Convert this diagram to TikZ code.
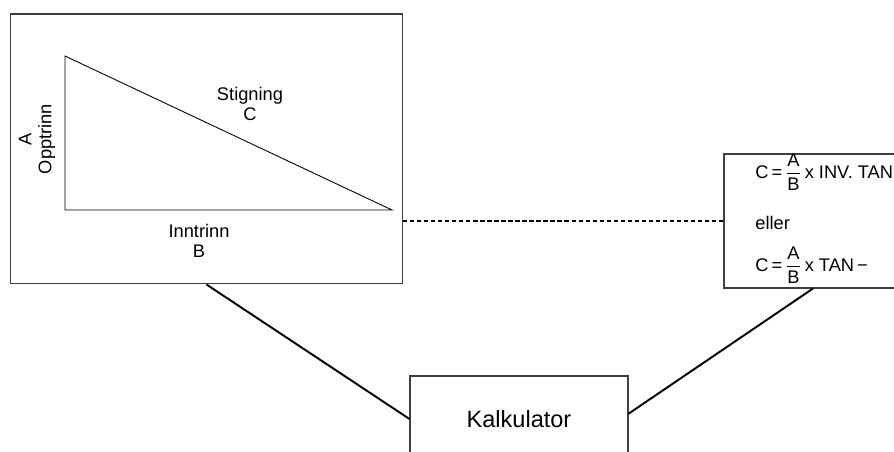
\documentclass[tikz,border=0pt]{standalone}
\usepackage{amsmath}
\usepackage{fontspec}
\setmainfont{Liberation Sans}
\usetikzlibrary{positioning, calc}

\begin{document}
\begin{tikzpicture}[x=0.02cm, y=-0.02cm,
    box/.style={draw=black!75, line width=0.6pt, rectangle, inner sep=0pt},
    link/.style={line width=1.1pt},
    lbl/.style={font=\fontsize{10.4}{11.5}\selectfont, inner sep=0pt, align=center}
  ]
  \useasboundingbox (0,0) rectangle (894,452);
  % Figure with the triangle
  \node[box, minimum width=7.86cm, minimum height=5.4cm] (figbox) at (206.5,149) {};
  \draw[line width=0.5pt] (65,56) -- (65,210) -- (392,210) -- cycle;
  \node[lbl] (stig) at (250,104) {Stigning\\C};
  \node[lbl, rotate=90] (opp) at (37,139) {A\\Opptrinn};
  \node[lbl] (inn) at (199,241) {Inntrinn\\B};
  % Formulas
  \node[box, minimum width=3.56cm, minimum height=2.68cm] (formel) at (813,221) {};
  \node[lbl, anchor=west] (f1) at (755,172)
    {C\,=\,$\dfrac{\text{A}}{\text{B}}$\,x INV. TAN};
  \node[lbl, anchor=west] (eller) at (755,223) {eller};
  \node[lbl, anchor=west] (f2) at (755,265)
    {C\,=\,$\dfrac{\text{A}}{\text{B}}$\,x TAN\,−};
  % Calculator
  \node[box, minimum width=4.36cm, minimum height=1.72cm,
        font=\fontsize{13.4}{15}\selectfont] (kalk) at (519,419) {Kalkulator};
  % Connectors
  \draw[link] (figbox.south) -- (kalk.west);
  \draw[link] (formel.south) -- ([yshift=3pt]kalk.east);
  \draw[line width=1pt, dash pattern=on 2.5pt off 1.5pt]
    (formel.west) -- (formel.west -| figbox.east);
\end{tikzpicture}
\end{document}
